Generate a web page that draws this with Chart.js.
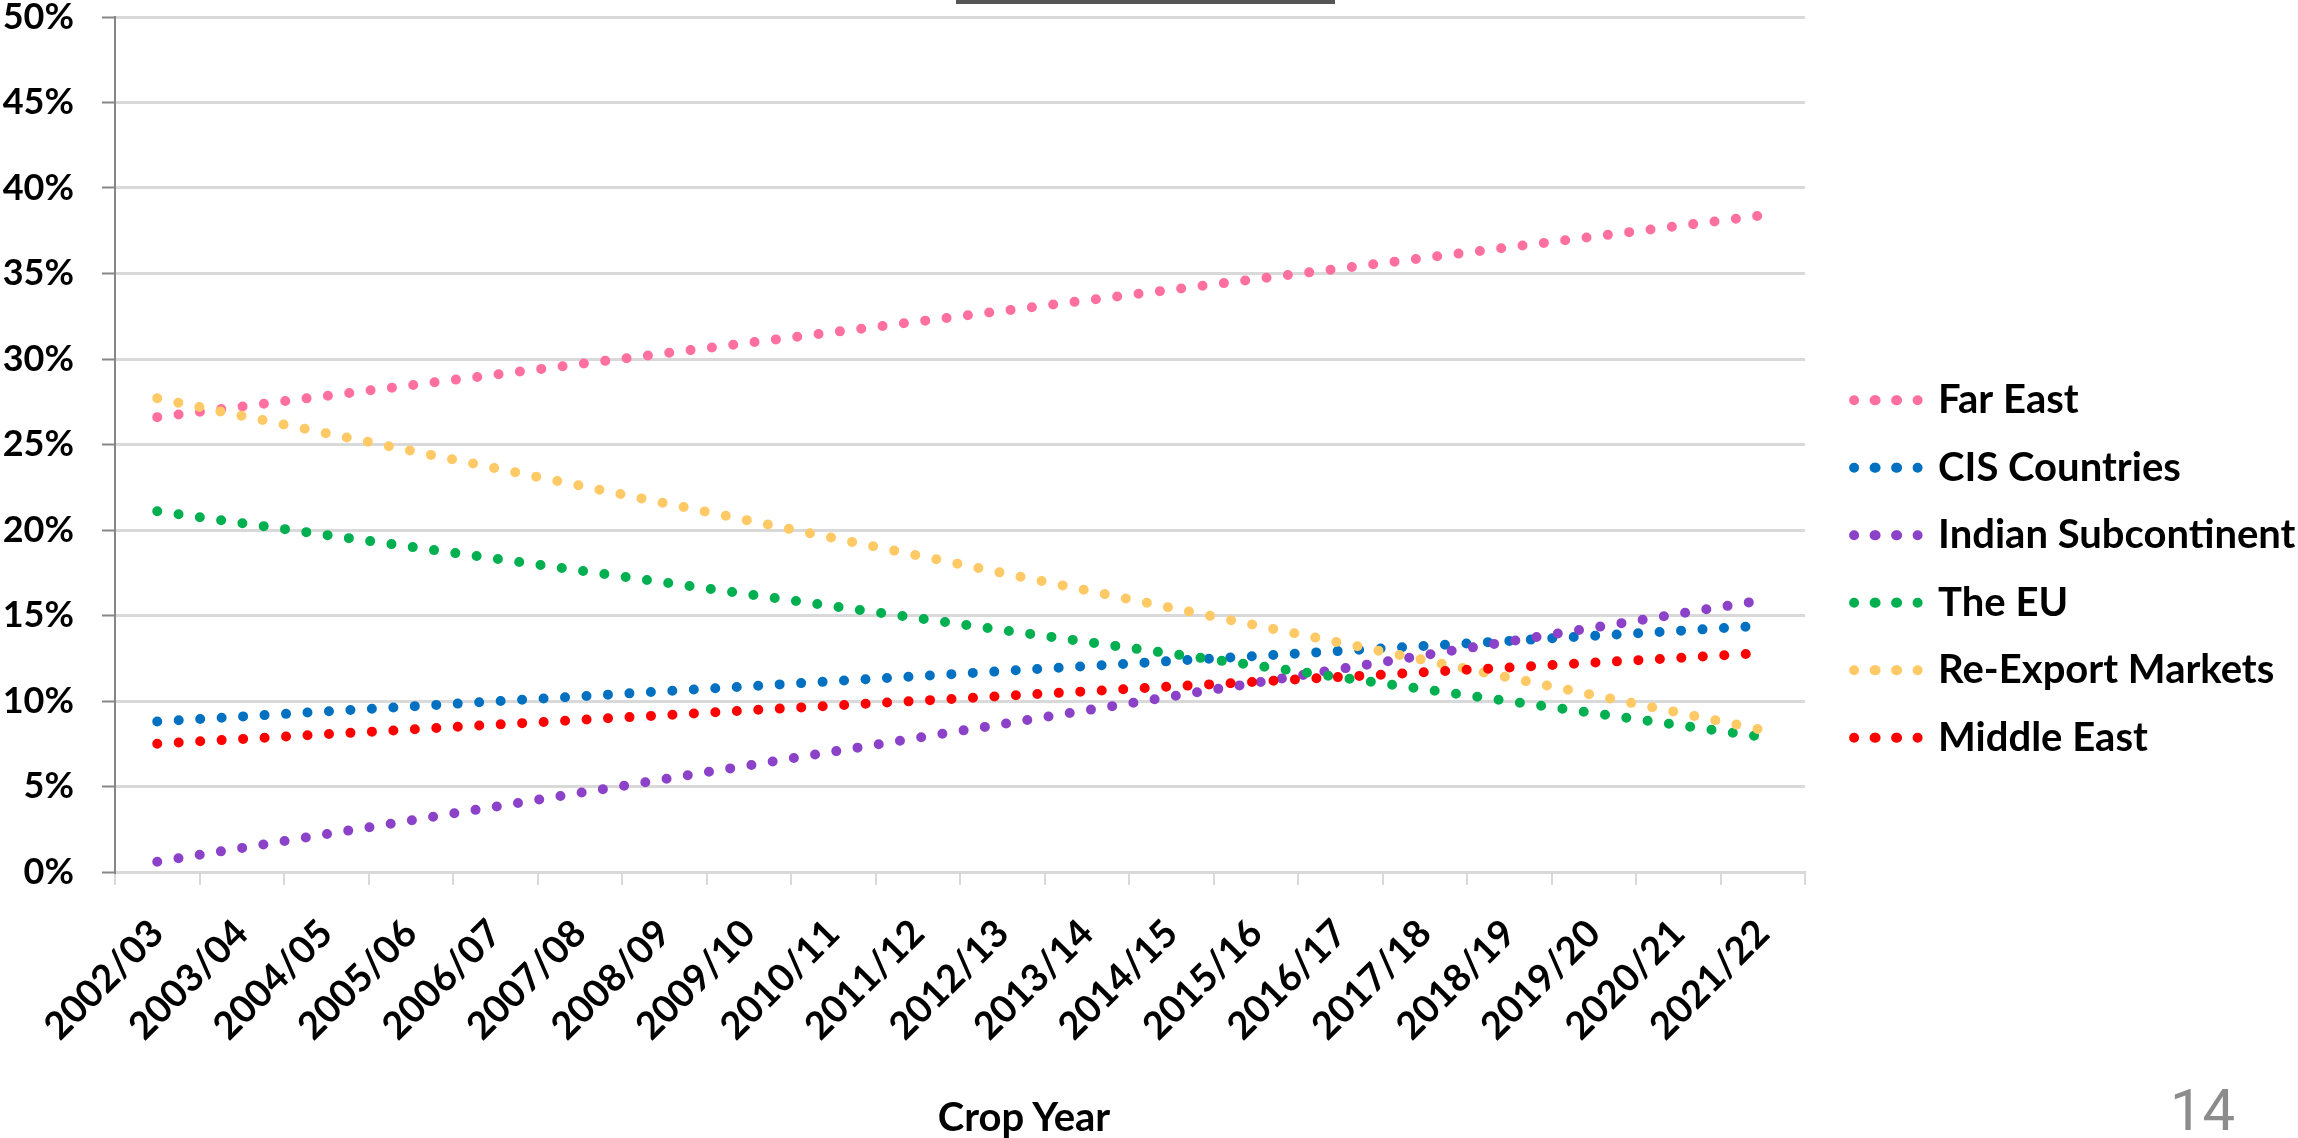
<!DOCTYPE html>
<html>
<head>
<meta charset="utf-8">
<script src="https://cdn.jsdelivr.net/npm/chart.js@4.4.1/dist/chart.umd.min.js"></script>
<style>
  html, body { margin: 0; padding: 0; background: #ffffff; }
  #wrap { position: relative; width: 2298px; height: 1138px; }
  #topBar { position: absolute; left: 956px; top: 0; width: 379px; height: 4px; background: #555555; }
  #xTitle { position: absolute; left: 0; width: 2048px; top: 1092px; text-align: center;
            font: bold 40px Lato, sans-serif; color: #000; }
  #pageNo { position: absolute; left: 2170px; top: 1076px; font: 58px "Liberation Sans Narrow", Roboto, sans-serif; color: #8c8c8c; }
</style>
</head>
<body>
<div id="wrap">
  <canvas id="trendChart" width="2298" height="1138"></canvas>
  <div id="topBar"></div>
  <div id="xTitle">Crop Year</div>
  <div id="pageNo">14</div>
</div>
<script>
// crop years on the x axis
const cropYears = ['2002/03', '2003/04', '2004/05', '2005/06', '2006/07', '2007/08', '2008/09',
    '2009/10', '2010/11', '2011/12', '2012/13', '2013/14', '2014/15', '2015/16', '2016/17',
    '2017/18', '2018/19', '2019/20', '2020/21', '2021/22'];

const farEast = [26.6, null, null, null, null, null, null, null, null, null, null, null, null, null, null, null, null, null, null, 38.4];
const cisCountries = [8.8, null, null, null, null, null, null, null, null, null, null, null, null, null, null, null, null, null, null, 14.4];
const indianSub = [0.6, null, null, null, null, null, null, null, null, null, null, null, null, null, null, null, null, null, null, 15.9];
const theEU = [21.1, null, null, null, null, null, null, null, null, null, null, null, null, null, null, null, null, null, null, 7.9];
const reExport = [27.7, null, null, null, null, null, null, null, null, null, null, null, null, null, null, null, null, null, null, 8.3];
const middleEast = [7.5, null, null, null, null, null, null, null, null, null, null, null, null, null, null, null, null, null, null, 12.8];

const yTicks = [0, 5, 10, 15, 20, 25, 30, 35, 40, 45, 50];

function dotted(label, data, color, order) {
    return {
        label: label,
        data: data,
        borderColor: color,
        backgroundColor: 'rgba(0,0,0,0)',
        borderWidth: 10,
        borderDash: [0, 21.5],
        borderCapStyle: 'round',
        pointRadius: 0,
        spanGaps: true,
        tension: 0,
        order: order
    };
}

// push the legend a little to the right of the plot, like the original slide
const legendShift = {
    id: 'legendShift',
    afterLayout(chart) {
        chart.legend.left += 21.5;
        chart.legend.right += 21.5;
    }
};

const ctx = document.getElementById('trendChart').getContext('2d');
new Chart(ctx, {
    type: 'line',
    data: {
        labels: cropYears,
        datasets: [
            dotted('Far East', farEast, '#ff6f9f', 6),
            dotted('CIS Countries', cisCountries, '#0070c0', 5),
            dotted('Indian Subcontinent', indianSub, '#8b41c8', 4),
            dotted('The EU', theEU, '#00b050', 3),
            dotted('Re-Export Markets', reExport, '#ffc966', 2),
            dotted('Middle East', middleEast, '#ff0000', 1)
        ]
    },
    plugins: [legendShift],
    options: {
        responsive: false,
        animation: false,
        layout: { padding: { left: 0, top: 0, bottom: 0, right: 14 } },
        plugins: {
            tooltip: { enabled: false },
            legend: {
                display: true,
                position: 'right',
                labels: {
                    sort: (a, b) => a.datasetIndex - b.datasetIndex,
                    boxWidth: 64,
                    boxHeight: 0,
                    padding: 27.5,
                    color: '#000000',
                    font: { family: 'Lato', weight: 'bold', size: 40 }
                }
            }
        },
        scales: {
            x: {
                offset: true,
                afterFit: (scale) => { scale.height = 266; },
                grid: {
                    display: true,
                    offset: true,
                    drawOnChartArea: false,
                    drawTicks: true,
                    tickLength: 13,
                    color: '#d9d9d9',
                    lineWidth: 2
                },
                border: { color: '#d9d9d9', width: 3 },
                ticks: {
                    autoSkip: false,
                    minRotation: 45,
                    maxRotation: 45,
                    padding: 26,
                    color: '#000000',
                    font: { family: 'Lato', weight: 'bold', size: 38 }
                }
            },
            y: {
                min: 0,
                max: 50,
                afterFit: (scale) => {
                    scale.width = 115;
                    scale.paddingTop = 17;
                    scale.paddingBottom = 0;
                },
                afterBuildTicks: (scale) => { scale.ticks = yTicks.map(v => ({ value: v })); },
                grid: {
                    color: '#d9d9d9',
                    lineWidth: 3,
                    tickColor: '#868686',
                    tickLength: 13,
                    tickWidth: 2
                },
                border: { color: '#868686', width: 2 },
                ticks: {
                    padding: 28,
                    color: '#000000',
                    callback: (v) => v + '%',
                    font: { family: 'Lato', weight: 'bold', size: 36 }
                }
            }
        }
    }
});
</script>
</body>
</html>
